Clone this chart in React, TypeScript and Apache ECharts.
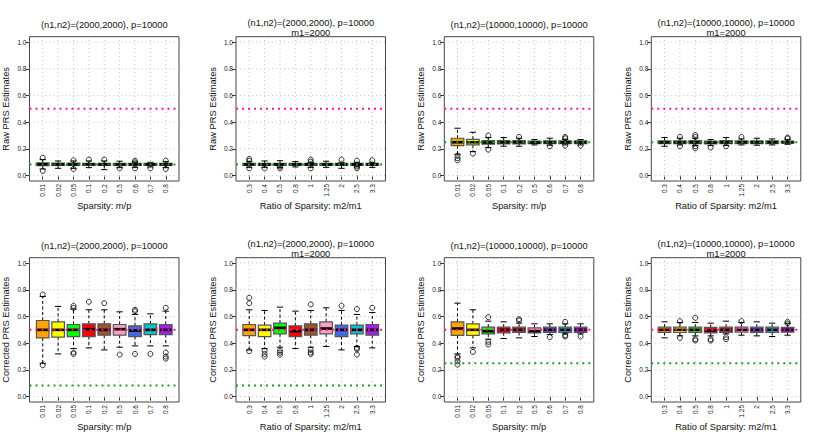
import React, { useEffect, useRef } from 'react';
import * as echarts from 'echarts';

// ---------- categories / ticks ----------
const sparsityLabels = ['0.01', '0.02', '0.05', '0.1', '0.2', '0.5', '0.6', '0.7', '0.8'];
const ratioLabels = ['0.3', '0.4', '0.5', '0.8', '1', '1.25', '2', '2.5', '3.3'];
const categoryPositions = [1, 2, 3, 4, 5, 6, 7, 8, 9];
const yTicks = [0, 0.2, 0.4, 0.6, 0.8, 1.0];
const boxColors = ['#FFA500', '#FFFF00', '#00FF00', '#FF0000', '#A0522D', '#F7A1BF', '#4169E1', '#00C8C8', '#A020F0'];

// ---------- reference values ----------
const targetH2 = 0.5;
const attenuated2000 = 0.0833;
const attenuated10000 = 0.25;

// ---------- box statistics: [lower whisker, Q1, median, Q3, upper whisker] ----------
const rawA = [
  [0.05, 0.075, 0.085, 0.095, 0.12], [0.055, 0.076, 0.084, 0.094, 0.11], [0.055, 0.076, 0.084, 0.094, 0.11],
  [0.06, 0.077, 0.085, 0.093, 0.11], [0.045, 0.076, 0.084, 0.093, 0.11], [0.06, 0.077, 0.084, 0.092, 0.108],
  [0.062, 0.077, 0.084, 0.092, 0.103], [0.065, 0.077, 0.084, 0.092, 0.1], [0.06, 0.077, 0.084, 0.092, 0.105],
];
const rawAOut = [[1, 0.135], [1, 0.035], [3, 0.115], [3, 0.05], [4, 0.12], [5, 0.12], [6, 0.055], [7, 0.112], [7, 0.1], [7, 0.055], [8, 0.055], [9, 0.112], [9, 0.05]];

const rawB = [
  [0.062, 0.077, 0.084, 0.093, 0.105], [0.062, 0.077, 0.084, 0.093, 0.11], [0.06, 0.077, 0.084, 0.093, 0.112],
  [0.065, 0.077, 0.084, 0.092, 0.105], [0.062, 0.077, 0.084, 0.092, 0.1], [0.062, 0.077, 0.084, 0.092, 0.108],
  [0.055, 0.077, 0.084, 0.092, 0.1], [0.065, 0.077, 0.084, 0.092, 0.1], [0.062, 0.077, 0.084, 0.092, 0.1],
];
const rawBOut = [[1, 0.125], [1, 0.112], [1, 0.055], [2, 0.055], [3, 0.068], [3, 0.055], [5, 0.12], [5, 0.105], [5, 0.055], [7, 0.12], [8, 0.112], [8, 0.068], [8, 0.055], [9, 0.115]];

const rawC = [
  [0.16, 0.225, 0.25, 0.28, 0.355], [0.18, 0.23, 0.25, 0.272, 0.325], [0.21, 0.235, 0.248, 0.262, 0.285],
  [0.22, 0.237, 0.25, 0.262, 0.285], [0.22, 0.238, 0.25, 0.263, 0.28], [0.23, 0.24, 0.248, 0.258, 0.27],
  [0.228, 0.24, 0.25, 0.26, 0.28], [0.23, 0.24, 0.25, 0.26, 0.272], [0.23, 0.24, 0.25, 0.26, 0.27],
];
const rawCOut = [[1, 0.15], [1, 0.13], [1, 0.115], [2, 0.165], [3, 0.3], [3, 0.195], [5, 0.29], [7, 0.22], [8, 0.29], [8, 0.28], [8, 0.225], [9, 0.225]];

const rawD = [
  [0.22, 0.24, 0.25, 0.26, 0.285], [0.23, 0.24, 0.25, 0.26, 0.28], [0.225, 0.24, 0.25, 0.262, 0.28],
  [0.225, 0.238, 0.248, 0.258, 0.27], [0.225, 0.24, 0.25, 0.262, 0.285], [0.23, 0.24, 0.25, 0.26, 0.275],
  [0.228, 0.24, 0.25, 0.26, 0.28], [0.23, 0.24, 0.25, 0.26, 0.275], [0.235, 0.243, 0.25, 0.258, 0.27],
];
const rawDOut = [[2, 0.29], [2, 0.22], [3, 0.305], [3, 0.29], [3, 0.22], [3, 0.205], [4, 0.21], [5, 0.22], [6, 0.29], [9, 0.285], [9, 0.278]];

const corE = [
  [0.25, 0.44, 0.5, 0.57, 0.75], [0.32, 0.445, 0.5, 0.56, 0.675], [0.36, 0.45, 0.5, 0.54, 0.655],
  [0.365, 0.45, 0.505, 0.545, 0.65], [0.35, 0.46, 0.5, 0.545, 0.65], [0.37, 0.46, 0.505, 0.54, 0.635],
  [0.38, 0.45, 0.495, 0.53, 0.615], [0.38, 0.465, 0.5, 0.545, 0.62], [0.38, 0.465, 0.5, 0.54, 0.64],
];
const corEOut = [[1, 0.765], [1, 0.235], [3, 0.68], [3, 0.665], [3, 0.33], [3, 0.32], [4, 0.71], [5, 0.7], [6, 0.315], [7, 0.65], [7, 0.64], [7, 0.32], [8, 0.32], [9, 0.665], [9, 0.33], [9, 0.3], [9, 0.285]];

const corF = [
  [0.35, 0.457, 0.5, 0.54, 0.65], [0.36, 0.45, 0.5, 0.535, 0.645], [0.37, 0.47, 0.515, 0.55, 0.67],
  [0.36, 0.45, 0.49, 0.53, 0.64], [0.37, 0.46, 0.5, 0.545, 0.645], [0.375, 0.47, 0.51, 0.56, 0.665],
  [0.35, 0.45, 0.5, 0.535, 0.645], [0.375, 0.47, 0.5, 0.535, 0.615], [0.365, 0.46, 0.5, 0.54, 0.63],
];
const corFOut = [[1, 0.74], [1, 0.7], [1, 0.34], [2, 0.345], [2, 0.32], [2, 0.3], [3, 0.345], [3, 0.33], [3, 0.315], [5, 0.69], [5, 0.35], [5, 0.33], [5, 0.32], [7, 0.68], [8, 0.655], [8, 0.365], [8, 0.355], [8, 0.315], [9, 0.665]];

const corG = [
  [0.32, 0.458, 0.51, 0.56, 0.7], [0.365, 0.458, 0.5, 0.545, 0.65], [0.43, 0.47, 0.49, 0.52, 0.565],
  [0.435, 0.478, 0.5, 0.52, 0.56], [0.44, 0.48, 0.5, 0.52, 0.55], [0.45, 0.478, 0.49, 0.515, 0.545],
  [0.465, 0.48, 0.5, 0.52, 0.545], [0.47, 0.48, 0.5, 0.52, 0.545], [0.47, 0.48, 0.5, 0.52, 0.545],
];
const corGOut = [[1, 0.3], [1, 0.29], [1, 0.265], [1, 0.24], [2, 0.335], [3, 0.595], [3, 0.41], [3, 0.39], [5, 0.58], [5, 0.57], [7, 0.445], [8, 0.56], [8, 0.46], [8, 0.45], [9, 0.45]];

const corH = [
  [0.44, 0.48, 0.5, 0.52, 0.56], [0.455, 0.48, 0.5, 0.52, 0.555], [0.455, 0.48, 0.5, 0.52, 0.555],
  [0.455, 0.478, 0.495, 0.518, 0.55], [0.47, 0.48, 0.5, 0.52, 0.565], [0.46, 0.482, 0.5, 0.52, 0.555],
  [0.455, 0.48, 0.5, 0.52, 0.56], [0.45, 0.48, 0.5, 0.52, 0.55], [0.46, 0.482, 0.5, 0.518, 0.55],
];
const corHOut = [[2, 0.565], [2, 0.44], [3, 0.59], [3, 0.43], [3, 0.42], [4, 0.43], [4, 0.42], [5, 0.445], [5, 0.43], [6, 0.565], [9, 0.56], [9, 0.548]];

// ---------- panel titles / axis names ----------
const titleN2000 = '(n1,n2)=(2000,2000), p=10000';
const titleN10000 = '(n1,n2)=(10000,10000), p=10000';
const subtitleM1 = 'm1=2000';
const rawName = 'Raw PRS Estimates';
const corName = 'Corrected PRS Estimates';
const sparsityName = 'Sparsity: m/p';
const ratioName = 'Ratio of Sparsity: m2/m1';

// ---------- layout ----------
const X_MIN = 0.14, X_MAX = 9.86, Y_MIN = -0.04, Y_MAX = 1.04;
const BOX_W = 0.82;
const LEFTS = [29.5, 236, 444.3, 651.3];
const TOPS = [36.7, 257.7];
const GW = 149.5, GH = 144.3;
const FONT = '"Liberation Sans", Arial, Helvetica, sans-serif';

const panels = [
  { stats: rawA, out: rawAOut, labels: sparsityLabels, title: titleN2000, sub: false, y: rawName, x: sparsityName, green: attenuated2000 },
  { stats: rawB, out: rawBOut, labels: ratioLabels, title: titleN2000, sub: true, y: rawName, x: ratioName, green: attenuated2000 },
  { stats: rawC, out: rawCOut, labels: sparsityLabels, title: titleN10000, sub: false, y: rawName, x: sparsityName, green: attenuated10000 },
  { stats: rawD, out: rawDOut, labels: ratioLabels, title: titleN10000, sub: true, y: rawName, x: ratioName, green: attenuated10000 },
  { stats: corE, out: corEOut, labels: sparsityLabels, title: titleN2000, sub: false, y: corName, x: sparsityName, green: attenuated2000 },
  { stats: corF, out: corFOut, labels: ratioLabels, title: titleN2000, sub: true, y: corName, x: ratioName, green: attenuated2000 },
  { stats: corG, out: corGOut, labels: sparsityLabels, title: titleN10000, sub: false, y: corName, x: sparsityName, green: attenuated10000 },
  { stats: corH, out: corHOut, labels: ratioLabels, title: titleN10000, sub: true, y: corName, x: ratioName, green: attenuated10000 },
];

const renderBox = (params: any, api: any) => {
  const x = api.value(0);
  const lo = api.coord([x, api.value(1)]);
  const q1 = api.coord([x, api.value(2)]);
  const md = api.coord([x, api.value(3)]);
  const q3 = api.coord([x, api.value(4)]);
  const hi = api.coord([x, api.value(5)]);
  const w = Math.abs(api.size([BOX_W, 0])[0]);
  const half = w / 2;
  const st = w / 4;
  const cx = md[0];
  const color = boxColors[params.dataIndex % boxColors.length];
  const dash = { stroke: '#000', lineWidth: 1, lineDash: [3, 2.5] };
  const solid = { stroke: '#000', lineWidth: 1 };
  return {
    type: 'group',
    children: [
      { type: 'line', shape: { x1: cx, y1: q3[1], x2: cx, y2: hi[1] }, style: dash },
      { type: 'line', shape: { x1: cx, y1: q1[1], x2: cx, y2: lo[1] }, style: dash },
      { type: 'line', shape: { x1: cx - st, y1: hi[1], x2: cx + st, y2: hi[1] }, style: solid },
      { type: 'line', shape: { x1: cx - st, y1: lo[1], x2: cx + st, y2: lo[1] }, style: solid },
      { type: 'rect', shape: { x: cx - half, y: q3[1], width: w, height: q1[1] - q3[1] }, style: { fill: color, stroke: '#555', lineWidth: 1.2 } },
      { type: 'line', shape: { x1: cx - half + 0.5, y1: md[1], x2: cx + half - 0.5, y2: md[1] }, style: { stroke: '#000', lineWidth: 2.6 } },
    ],
  };
};

const renderHGrid = (params: any, api: any) => {
  const a = api.coord([api.value(0), api.value(1)]);
  const b = api.coord([api.value(2), api.value(1)]);
  return { type: 'line', shape: { x1: a[0], y1: a[1], x2: b[0], y2: b[1] }, style: { stroke: '#c4c4c4', lineWidth: 1, lineDash: [1, 3] } };
};
const renderVGrid = (params: any, api: any) => {
  const a = api.coord([api.value(0), api.value(1)]);
  const b = api.coord([api.value(0), api.value(2)]);
  return { type: 'line', shape: { x1: a[0], y1: a[1], x2: b[0], y2: b[1] }, style: { stroke: '#c4c4c4', lineWidth: 1, lineDash: [1, 3] } };
};

export default function App() {
  const ref = useRef<HTMLDivElement>(null);
  useEffect(() => {
    if (!ref.current) return;
    const chart = echarts.init(ref.current, null, { renderer: 'svg' });
    const grid: any[] = [];
    const xAxis: any[] = [];
    const yAxis: any[] = [];
    const title: any[] = [];
    const series: any[] = [];
    panels.forEach((p, i) => {
      const col = i % 4;
      const row = Math.floor(i / 4);
      const left = LEFTS[col];
      const top = TOPS[row];
      grid.push({ left, top, width: GW, height: GH, show: true, borderColor: '#444', borderWidth: 1, backgroundColor: 'transparent' });
      xAxis.push({
        type: 'value', gridIndex: i, min: X_MIN, max: X_MAX,
        axisLine: { show: false }, splitLine: { show: false },
        axisTick: { show: true, customValues: categoryPositions, length: 4, lineStyle: { color: '#333', width: 1 } },
        axisLabel: {
          customValues: categoryPositions, rotate: 90, fontSize: 6.5, margin: 3, color: '#222', fontFamily: FONT,
          formatter: (v: number) => p.labels[Math.round(v) - 1] ?? '',
        },
        name: p.x, nameLocation: 'middle', nameGap: 20,
        nameTextStyle: { fontSize: 9.3, color: '#111', fontFamily: FONT },
      });
      yAxis.push({
        type: 'value', gridIndex: i, min: Y_MIN, max: Y_MAX,
        axisLine: { show: false }, splitLine: { show: false },
        axisTick: { show: true, customValues: yTicks, length: 4, lineStyle: { color: '#333', width: 1 } },
        axisLabel: {
          customValues: yTicks, fontSize: 6.5, margin: 3, color: '#222', fontFamily: FONT,
          formatter: (v: number) => v.toFixed(1),
        },
        name: p.y, nameLocation: 'middle', nameGap: 19,
        nameTextStyle: { fontSize: 9.3, color: '#111', fontFamily: FONT },
      });
      const cx = left + GW / 2;
      const centerY = row === 0 ? 25 : 246;
      const tStyle = { fontSize: 9.3, fontWeight: 'normal', color: '#111', fontFamily: FONT, lineHeight: 10 };
      if (p.sub) {
        title.push({ text: p.title, left: cx, textAlign: 'center', padding: 0, top: centerY - 7, textStyle: tStyle });
        title.push({ text: subtitleM1, left: cx, textAlign: 'center', padding: 0, top: centerY + 2.8, textStyle: tStyle });
      } else {
        title.push({ text: p.title, left: cx, textAlign: 'center', padding: 0, top: centerY - 5, textStyle: tStyle });
      }
      series.push({
        type: 'custom', xAxisIndex: i, yAxisIndex: i, z: 1, silent: true,
        renderItem: renderHGrid, encode: { x: [0, 2], y: 1 },
        data: yTicks.map((v) => [X_MIN, v, X_MAX]),
      });
      series.push({
        type: 'custom', xAxisIndex: i, yAxisIndex: i, z: 1, silent: true,
        renderItem: renderVGrid, encode: { x: 0, y: [1, 2] },
        data: categoryPositions.map((c) => [c, Y_MIN, Y_MAX]),
      });
      series.push({
        type: 'custom', xAxisIndex: i, yAxisIndex: i, z: 2,
        renderItem: renderBox, encode: { x: 0, y: [1, 2, 3, 4, 5] },
        data: p.stats.map((s, k) => [categoryPositions[k], ...s]),
      });
      series.push({
        type: 'scatter', xAxisIndex: i, yAxisIndex: i, z: 3,
        symbol: 'circle', symbolSize: 5,
        itemStyle: { color: 'rgba(0,0,0,0)', borderColor: '#000', borderWidth: 1 },
        data: p.out,
      });
      series.push({
        type: 'line', xAxisIndex: i, yAxisIndex: i, z: 4, symbol: 'none', silent: true,
        lineStyle: { color: '#FF1493', width: 2, type: [2, 4], cap: 'butt' },
        data: [[X_MIN, targetH2], [X_MAX, targetH2]],
      });
      series.push({
        type: 'line', xAxisIndex: i, yAxisIndex: i, z: 4, symbol: 'none', silent: true,
        lineStyle: { color: '#229A22', width: 2, type: [2, 4], cap: 'butt' },
        data: [[X_MIN, p.green], [X_MAX, p.green]],
      });
    });
    chart.setOption({
      animation: false,
      backgroundColor: '#fff',
      textStyle: { fontFamily: FONT },
      title, grid, xAxis, yAxis, series,
    });
    return () => chart.dispose();
  }, []);
  return <div ref={ref} style={{ position: 'absolute', left: 0, top: 0, width: 830, height: 443 }} />;
}
